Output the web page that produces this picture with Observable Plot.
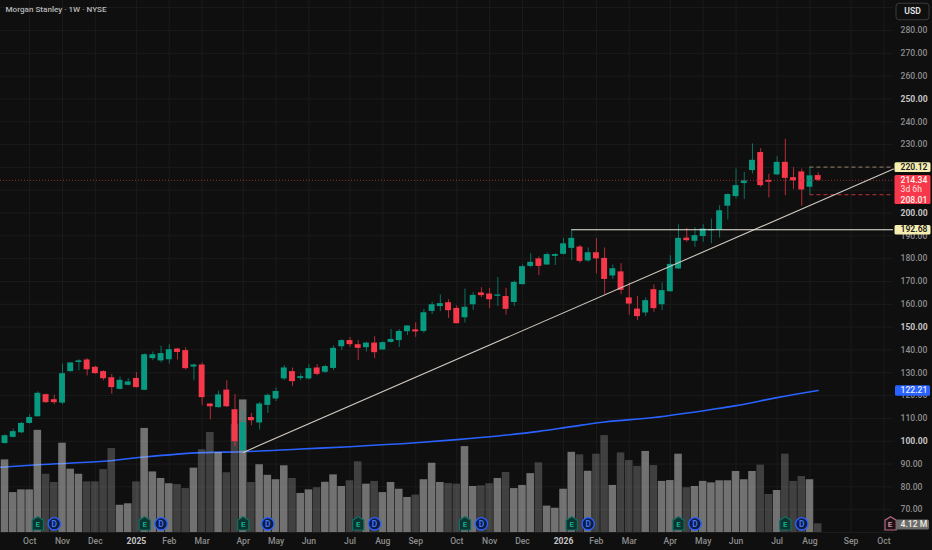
<!DOCTYPE html>
<html>
<head>
<meta charset="utf-8">
<script src="https://cdn.jsdelivr.net/npm/d3@7"></script>
<script src="https://cdn.jsdelivr.net/npm/@observablehq/plot@0.6"></script>
<style>
html,body{margin:0;padding:0;background:#0f0f0f;overflow:hidden}
svg{display:block}
</style>
</head>
<body>
<div id="chart"></div>
<script>
const open  = [99.0,101.7,103.7,107.8,110.7,120.4,118.2,116.7,130.5,134.5,135.6,132.4,130.5,127.8,122.7,124.5,127.5,122.3,136.2,135.2,135.7,140.4,139.7,132.5,133.4,116.3,114.7,122.4,113.8,95.8,110.4,108,115.7,118.5,127.3,130.5,127.5,127.3,132.1,130.2,131.9,141.4,144.1,142.3,141,143,140,143.3,144.1,148,148.8,148.1,156.9,159,160.7,158.2,154.1,159.8,165,164.5,163.5,163.4,160.8,168.6,176.6,179.9,177.2,181,181.9,184.5,185.1,179,182.6,180.1,172.4,174.2,162.8,157.9,156.2,166.4,159.8,165.5,175.5,189,187.6,189.7,192.2,192.6,203,207.2,212.9,218.6,226.5,214.3,216.7,222.2,215.5,218,211.3,216.4];
const close = [102.4,104.2,107.8,110.4,121,116.9,116.9,129.6,134.3,135.2,131.3,129.6,127.4,123.5,126.7,126,123.5,137.9,137.9,138.4,140.1,138.9,131.8,133.4,119.1,115.1,120.3,115.1,99.8,108.2,109,116.3,120.1,121.8,132.1,126.1,128.3,131.8,129.3,132.7,140.7,144.1,142.3,140.7,143,138.8,143.2,144.6,148.1,150.5,147.9,156.3,159.8,160.3,157.2,151.5,158.7,163.9,163.8,162,163.9,157.8,169.6,176.5,178.4,176.6,181.8,181.8,186.5,188.9,178.8,182.6,179.9,170.9,175.6,166.1,160.1,154.6,161.6,158.1,166,177.5,188.9,187.9,190.1,193,192.6,201,208.1,212,214.1,223.1,212,213.5,222.2,215.2,214.1,210.1,216.3,214.34];
const high  = [102.8,105.3,108.2,111.6,121.6,120.7,120.2,133.8,134.4,135.7,136.2,132.8,130.9,129.3,128.1,127.4,130,138.3,139.1,141.6,142.3,140.7,140.9,133.7,134.3,116.5,122,126.5,120.4,113.4,112.2,117,120.7,123.3,133.1,132.1,129.4,133.5,133.5,133.2,141.7,144.5,145.4,144.1,143.3,145.8,143.5,149,148.9,150.6,151.9,157.8,161,164.1,162,159.3,166.7,165.1,167.3,166.9,171.8,167,170.2,177.2,182.2,180.7,182.5,182.2,188.9,192.68,185.7,184.7,188.8,184.7,177.2,177.8,169.4,163.5,162.8,168.5,169.4,181.3,194.8,193.3,193.5,194.9,197.4,203.2,208.4,219.3,217.8,230.3,228.2,217,224.7,232.3,219.9,219.3,220.12,217.6];
const low   = [98.7,101.4,103.3,107.5,110.7,116.6,116,116,130.3,130.9,128.6,129.4,126.5,120.5,122.5,124.2,123.3,122.2,135.3,134.3,133.8,135.6,131.2,126.5,115.6,109.4,114.5,114.7,97.6,95.1,106.8,104.9,112.2,117.4,126.5,124,126.5,126.8,128.7,129.7,130.9,139.8,141.1,135.3,139.1,136.2,139.8,143,141.1,146.4,145.5,147.3,155.5,156.8,153.8,151.5,151.8,157.3,162.9,158.1,159,155.3,159,168.6,176,172.6,177.1,177,181.6,179.1,178,178.4,173.3,164.2,170.9,164.2,155.3,152.8,154.6,156.5,157.2,165.3,175.2,187.2,185,187.2,186.5,189,197,206.2,205.9,217.1,211.3,206.6,216.4,207.6,210.3,203,208.01,213.8];
const volume = [34.4,18.9,20.2,20.2,48.4,27.6,23.7,42.3,30,27.6,24,24,29.8,39.8,12.9,13.6,24,49.3,28.7,25.6,23.1,22.7,20.8,30.5,39.2,47.4,37.9,28.3,51,62.8,23.7,32.1,27.1,25,31.6,25.6,18.5,20.2,21.2,23.8,27.3,21.8,24.5,33.5,22.9,24.2,18.9,23.7,20.5,16.6,17.7,25,32.8,23.7,23.2,22.9,40.7,21.8,22.1,23.1,25.6,28.4,20.8,22.3,27.9,33,12.5,11.5,20.5,38,36.8,29,37.1,45.9,22.3,37.7,34.1,31.3,38.4,31.7,24.2,24.6,37.1,21.2,21.8,24.2,23.5,24.5,24.5,28.9,25,28.9,31.9,18,19.9,37.1,24.2,26.5,25,4.12];

const smaIndex = [-0.548,4,12,17,24,29,36,42,50,55,60,65,69,73,79,86,89,94,99];
const smaValue = [88.6,89.7,91.2,93.1,95,95.4,96.6,97.6,99.3,100.7,102.3,104.3,106.4,108.4,110.4,113.9,115.6,119.1,122.21];

const monthIndex = [3,7,11,20,24,29,33,37,42,46,50,55,59,63,72,76,81,85,89,94,98,103,107];
const monthName  = ["Oct","Nov","Dec","Feb","Mar","Apr","May","Jun","Jul","Aug","Sep","Oct","Nov","Dec","Feb","Mar","Apr","May","Jun","Jul","Aug","Sep","Oct"];
const yearIndex = [16,68];
const yearName  = ["2025","2026"];

const priceTicks = [70,80,90,110,120,130,140,160,170,180,190,210,220,230,240,260,270,280];
const boldTicks  = [100,150,200,250];
const gridLevels = [60,70,80,90,100,110,120,130,140,150,160,170,180,190,200,210,220,230,240,250,260,270,280,290];

const earningsIndex = [4,17,29,43,56,69,82,95];
const dividendIndex = [6,19,32,45,58,71,84,97];
const nextEarningsIndex = [108];

const trendX = [29,108.17];
const trendY = [95.1,219.3];
const resistance = 192.68;
const resistanceStart = 69;
const lastPrice = 214.34;
const weekHigh = 220.12;
const weekLow = 208.01;
const smaLast = 122.21;
const volumeLast = "4.12 M";
const rangeStart = 98;

const xDomain = [-0.548,108.17];
const yDomain = [60,293.13];
const volumeUnit = 0.925;   // price units per million shares: volume pane shares the price axis
const volToY = m => yDomain[0] + m * volumeUnit;

const bars = open.map((o,i)=>({i,o,c:close[i],h:high[i],l:low[i],v:volume[i],up:close[i]>=o}));
const sma = smaIndex.map((i,k)=>({i,v:smaValue[k]}));
const trend = trendX.map((x,k)=>({x,y:trendY[k]}));
const months = new Map(monthIndex.map((m,k)=>[m,monthName[k]]));
const years = new Map(yearIndex.map((m,k)=>[m,yearName[k]]));

const TEAL="#089981", RED="#f7384a", BG="#0f0f0f", GRID="#1b1b1b", AXIS="#8d8d8d", AXISB="#c4c4c4";
const FONT="Roboto, Inter, sans-serif";

function tag(w,h,r){return {draw(c){const x=-w/2,y=-h/2;
  c.moveTo(x+r,y);c.lineTo(x+w-r,y);c.arcTo(x+w,y,x+w,y+r,r);c.lineTo(x+w,y+h-r);c.arcTo(x+w,y+h,x+w-r,y+h,r);
  c.lineTo(x+r,y+h);c.arcTo(x,y+h,x,y+h-r,r);c.lineTo(x,y+r);c.arcTo(x,y,x+r,y,r);c.closePath();}};}
const house={draw(c){c.moveTo(0,-7);c.lineTo(5.6,-3.6);c.lineTo(5.6,6.2);c.lineTo(-5.6,6.2);c.lineTo(-5.6,-3.6);c.closePath();}};

const tagDot=(val,w,h,fill,extra={})=>Plot.dot([val],{y:d=>d,frameAnchor:"right",dx:19,r:1,symbol:tag(w,h,1.5),fill,stroke:"none",...extra});
const tagText=(val,label,fill,extra={})=>Plot.text([val],{y:d=>d,text:()=>label,frameAnchor:"right",dx:7,textAnchor:"start",lineAnchor:"middle",fill,fontSize:8.6,fontWeight:500,...extra});

const chart=Plot.plot({
  width:932,height:550,marginTop:0,marginBottom:18,marginLeft:0,marginRight:39,
  style:{background:BG,fontFamily:FONT,fontSize:"8.6px"},
  x:{type:"linear",domain:xDomain,axis:null},
  y:{type:"linear",domain:yDomain,axis:null},
  marks:[
    Plot.ruleX([...monthIndex,...yearIndex,],{x:d=>d,stroke:GRID,strokeWidth:1}),
    Plot.ruleY(gridLevels,{y:d=>d,stroke:GRID,strokeWidth:1}),

    Plot.line(sma,{x:"i",y:"v",stroke:"#2962ff",strokeWidth:1.6,curve:"monotone-x"}),

    Plot.rect(bars,{x1:d=>d.i-0.46,x2:d=>d.i+0.46,y1:yDomain[0],y2:d=>volToY(d.v),fill:"#c2c2c2",fillOpacity:d=>d.up?0.55:0.28}),

    Plot.ruleX(bars,{x:"i",y1:"l",y2:"h",stroke:d=>d.up?TEAL:RED,strokeOpacity:0.72,strokeWidth:1}),
    Plot.rect(bars,{x1:d=>d.i-0.36,x2:d=>d.i+0.36,y1:"o",y2:d=>Math.abs(d.c-d.o)<0.6?d.o+(d.up?0.6:-0.6):d.c,fill:d=>d.up?TEAL:RED}),

    Plot.ruleY([lastPrice],{y:d=>d,stroke:"#9c2d38",strokeWidth:1,strokeDasharray:"1,2"}),
    Plot.ruleY([weekHigh],{y:d=>d,x1:rangeStart,x2:xDomain[1],stroke:"#9b8468",strokeWidth:1,strokeDasharray:"4,3"}),
    Plot.ruleY([weekLow],{y:d=>d,x1:rangeStart,x2:xDomain[1],stroke:"#c5303e",strokeWidth:1,strokeDasharray:"4,3"}),

    Plot.line(trend,{x:"x",y:"y",stroke:"#cfc8be",strokeWidth:1.1}),
    Plot.ruleY([resistance],{y:d=>d,x1:resistanceStart,x2:xDomain[1],stroke:"#ece8dc",strokeWidth:1.2}),

    // event badges
    Plot.dot(earningsIndex,{x:d=>d,frameAnchor:"bottom",dy:-8.7,r:1,symbol:house,fill:"#0c332e",stroke:"#0f6f60",strokeWidth:1.2}),
    Plot.text(earningsIndex,{x:d=>d,text:()=>"E",frameAnchor:"bottom",lineAnchor:"middle",dy:-8,fill:"#12b094",fontSize:8,fontWeight:600}),
    Plot.dot(dividendIndex,{x:d=>d,frameAnchor:"bottom",dy:-8.7,r:6.2,fill:"#101b40",stroke:"#2962ff",strokeWidth:1.4}),
    Plot.text(dividendIndex,{x:d=>d,text:()=>"D",frameAnchor:"bottom",lineAnchor:"middle",dy:-8.7,fill:"#3f78ff",fontSize:8.5,fontWeight:600}),
    Plot.dot(nextEarningsIndex,{x:d=>d,frameAnchor:"bottom",dy:-8.7,r:1,symbol:house,fill:"#1c1216",stroke:"#b5687c",strokeWidth:1.2,dx:-1.5}),
    Plot.text(nextEarningsIndex,{x:d=>d,text:()=>"E",frameAnchor:"bottom",lineAnchor:"middle",dy:-8,dx:-2,fill:"#d98fa3",fontSize:8,fontWeight:600}),

    // axes
    Plot.axisY(priceTicks,{anchor:"right",tickSize:0,tickPadding:7,label:null,tickFormat:d=>d.toFixed(2),fill:AXIS,fontSize:8.6,fontWeight:500}),
    Plot.axisY(boldTicks,{anchor:"right",tickSize:0,tickPadding:7,label:null,tickFormat:d=>d.toFixed(2),fill:AXISB,fontSize:8.6,fontWeight:700}),
    Plot.axisX(monthIndex,{anchor:"bottom",tickSize:0,tickPadding:5,label:null,tickFormat:d=>months.get(d),fill:AXIS,fontSize:8.6,fontWeight:500}),
    Plot.axisX(yearIndex,{anchor:"bottom",tickSize:0,tickPadding:5,label:null,tickFormat:d=>years.get(d),fill:AXISB,fontSize:8.6,fontWeight:700}),

    // price tags
    tagDot(weekHigh,36,9.6,"#f5eeb0"),
    tagDot(resistance,36,9.6,"#f5eeb0"),
    tagDot(lastPrice,36,29,RED,{dy:9.3}),
    tagDot(smaLast,35,10.6,"#2962ff"),
    tagText(weekHigh,"220.12","#1d1d1d",{fontWeight:600}),
    tagText(resistance,"192.68","#1d1d1d",{fontWeight:600}),
    tagText(lastPrice,"214.34","#fff2ea"),
    tagText(lastPrice,"3d 6h","#ffc4c4",{dy:9.2}),
    tagText(lastPrice,"208.01","#fff2ea",{dy:19.8}),
    tagText(smaLast,"122.21","#e4e8ff"),
    Plot.dot([0],{frameAnchor:"bottom-right",dx:19,dy:-8,r:1,symbol:tag(33,10,1.5),fill:"#6b6b6b"}),
    Plot.text([0],{text:()=>volumeLast,frameAnchor:"bottom-right",dx:7,dy:-8,textAnchor:"start",lineAnchor:"middle",fill:"#f0ece0",fontSize:8.6,fontWeight:500}),

    // header
    Plot.text([0],{text:()=>"Morgan Stanley · 1W · NYSE",frameAnchor:"top-left",dx:5,dy:6,textAnchor:"start",fill:"#b8b8b8",fontSize:8.1,fontWeight:500}),
    Plot.dot([0],{frameAnchor:"top-right",dx:19,dy:11,r:1,symbol:tag(33,16.5,3),fill:BG,stroke:"#3a3a3a",strokeWidth:1}),
    Plot.text([0],{text:()=>"USD",frameAnchor:"top-right",dx:19,dy:11,textAnchor:"middle",lineAnchor:"middle",fill:"#e4e4e4",fontSize:8.6,fontWeight:600})
  ]
});
document.getElementById("chart").appendChild(chart);
</script>
</body>
</html>
